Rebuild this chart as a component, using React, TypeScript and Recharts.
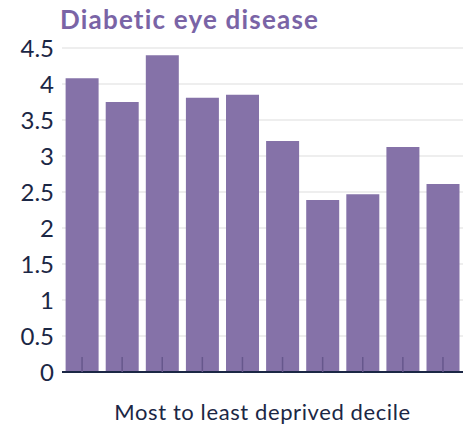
import { BarChart, Bar, XAxis, YAxis, CartesianGrid } from 'recharts';

const deciles = ['1', '2', '3', '4', '5', '6', '7', '8', '9', '10'];
const rates = [4.08, 3.75, 4.4, 3.81, 3.85, 3.21, 2.39, 2.47, 3.125, 2.61];
const yTicks = [0, 0.5, 1, 1.5, 2, 2.5, 3, 3.5, 4, 4.5];

const BAR_COLOR = '#8572A8';
const TITLE_COLOR = '#7A64A6';
const TEXT_COLOR = '#1B2745';

const data = deciles.map((d, i) => ({ decile: d, rate: rates[i] }));

export default function App() {
    return (
        <div
            style={{
                position: 'absolute',
                left: 0,
                top: 0,
                width: 463,
                height: 427,
                background: '#fff',
                fontFamily: 'Lato, sans-serif',
            }}
        >
            <div
                style={{
                    position: 'absolute',
                    left: 60,
                    top: 4,
                    fontSize: 26,
                    lineHeight: '30px',
                    fontWeight: 700,
                    letterSpacing: 1.2,
                    color: TITLE_COLOR,
                    whiteSpace: 'nowrap',
                }}
            >
                Diabetic eye disease
            </div>
            <BarChart
                width={463}
                height={427}
                data={data}
                margin={{ top: 48, right: 0, left: 0, bottom: 0 }}
                barCategoryGap="9%"
            >
                <CartesianGrid
                    vertical={false}
                    stroke="#EEEEEE"
                    strokeWidth={2}
                />
                <YAxis
                    width={62}
                    domain={[0, 4.5]}
                    ticks={yTicks}
                    interval={0}
                    axisLine={false}
                    tickLine={false}
                    tick={{ fill: TEXT_COLOR, fontSize: 24 }}
                />
                <Bar dataKey="rate" fill={BAR_COLOR} isAnimationActive={false} />
                <XAxis
                    dataKey="decile"
                    height={55}
                    tickFormatter={() => ''}
                    tickSize={-15}
                    tickLine={{ stroke: '#66578C', strokeWidth: 1.5 }}
                    axisLine={{ stroke: TEXT_COLOR, strokeWidth: 2 }}
                    label={{
                        value: 'Most to least deprived decile',
                        position: 'insideBottom',
                        offset: 7,
                        fill: TEXT_COLOR,
                        fontSize: 22,
                        letterSpacing: 0.6,
                    }}
                />
            </BarChart>
        </div>
    );
}
